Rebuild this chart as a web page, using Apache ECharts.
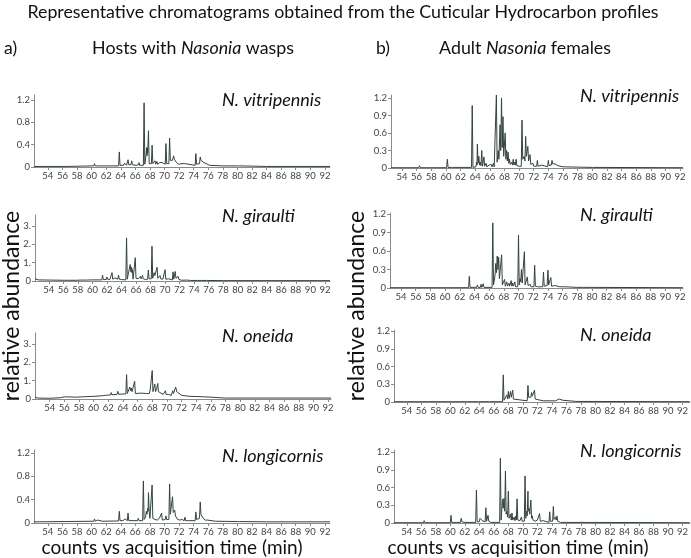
<!DOCTYPE html>
<html>
<head>
<meta charset="utf-8">
<script src="https://cdn.jsdelivr.net/npm/echarts@6/dist/echarts.min.js"></script>
<style>
    html, body { margin: 0; background: #fff; }
    #chart { width: 691px; height: 558px; }
</style>
</head>
<body>
<div id="chart"></div>
<script>
    // 刻度
    var xTicks = [54, 56, 58, 60, 62, 64, 66, 68, 70, 72, 74, 76, 78, 80, 82, 84, 86, 88, 90, 92];
    var yTicksHost = [0, 0.4, 0.8, 1.2];
    var yTicksHostBig = [0, 1, 2, 3];
    var yTicksAdult = [0, 0.3, 0.6, 0.9, 1.2];

    // [time (min), abundance]
    var hostVitripennis = [[52.1,0.01],[54.7,0.01],[54.8,0.03],[54.9,0.01],[56.6,0.01],[56.7,0.04],[56.8,0.01],[58.5,0.015],[58.6,0.03],[58.7,0.015],[60.3,0.02],[60.4,0.06],[60.5,0.02],[61.0,0.02],[61.1,0.035],[61.2,0.02],[61.6,0.02],[61.7,0.035],[61.8,0.02],[62.1,0.02],[62.2,0.035],[62.3,0.02],[63.7,0.02],[63.8,0.27],[63.9,0.03],[64.4,0.03],[64.5,0.07],[64.6,0.04],[64.7,0.08],[64.8,0.03],[64.95,0.03],[65.0,0.13],[65.1,0.04],[65.4,0.04],[65.5,0.11],[65.6,0.04],[66.1,0.03],[66.2,0.05],[66.3,0.03],[66.45,0.04],[66.5,0.08],[66.6,0.03],[67.1,0.03],[67.2,1.15],[67.3,0.05],[67.45,0.2],[67.55,0.35],[67.6,0.2],[67.65,0.34],[67.7,0.25],[67.8,0.65],[67.9,0.06],[68.2,0.06],[68.3,0.39],[68.4,0.06],[68.6,0.05],[68.7,0.11],[68.8,0.05],[68.95,0.1],[69.05,0.05],[69.35,0.08],[69.45,0.05],[69.65,0.08],[69.75,0.05],[70.1,0.05],[70.2,0.42],[70.3,0.06],[70.6,0.06],[70.7,0.52],[70.8,0.12],[71.0,0.15],[71.1,0.12],[71.25,0.2],[71.35,0.14],[71.5,0.16],[71.6,0.09],[71.8,0.09],[71.9,0.05],[72.4,0.06],[72.5,0.04],[72.8,0.06],[72.9,0.03],[74.2,0.03],[74.3,0.24],[74.4,0.05],[74.8,0.06],[74.9,0.18],[75.0,0.12],[75.2,0.1],[75.4,0.08],[75.6,0.06],[76.2,0.03],[78,0.02],[80.0,0.02],[80.1,0.035],[80.3,0.02],[84,0.01],[92.7,0.01]];

    var adultVitripennis = [[52.5,0.005],[56.3,0.005],[56.4,0.04],[56.5,0.005],[57.4,0.005],[57.5,0.02],[57.6,0.005],[60.1,0.005],[60.2,0.15],[60.3,0.01],[60.9,0.01],[61.0,0.03],[61.1,0.01],[61.8,0.01],[61.9,0.02],[62.0,0.01],[63.5,0.01],[63.6,1.07],[63.7,0.01],[64.1,0.02],[64.2,0.1],[64.25,0.05],[64.3,0.41],[64.4,0.08],[64.5,0.2],[64.6,0.05],[64.7,0.1],[64.8,0.04],[64.9,0.3],[65.0,0.03],[65.1,0.04],[65.2,0.19],[65.3,0.03],[65.5,0.08],[65.6,0.02],[65.9,0.05],[66.0,0.02],[66.2,0.06],[66.3,0.02],[66.5,0.08],[66.6,0.02],[66.8,0.02],[66.9,1.25],[67.0,0.1],[67.15,0.3],[67.25,0.15],[67.4,0.74],[67.5,0.3],[67.6,1.2],[67.7,0.35],[67.8,0.88],[67.9,0.2],[68.1,0.6],[68.2,0.15],[68.3,0.3],[68.4,0.12],[68.5,0.27],[68.6,0.08],[68.7,0.15],[68.8,0.06],[69.0,0.1],[69.1,0.05],[69.2,0.15],[69.3,0.05],[69.4,0.1],[69.5,0.05],[69.6,0.15],[69.7,0.04],[69.9,0.07],[70.0,0.03],[70.3,0.03],[70.4,0.82],[70.5,0.15],[70.7,0.2],[70.8,0.12],[70.9,0.54],[71.0,0.2],[71.2,0.37],[71.3,0.12],[71.5,0.23],[71.6,0.06],[71.9,0.08],[72.0,0.03],[72.4,0.03],[72.5,0.13],[72.6,0.03],[73.1,0.05],[73.2,0.02],[73.9,0.02],[74.0,0.13],[74.1,0.04],[74.4,0.05],[74.5,0.13],[74.6,0.07],[74.9,0.07],[75.3,0.04],[76,0.02],[80,0.01],[92.4,0.005]];

    var hostGiraulti = [[52.1,0.12],[52.6,0.06],[54.2,0.05],[54.3,0.1],[54.4,0.05],[56.1,0.04],[56.2,0.07],[56.3,0.04],[57.9,0.04],[58.0,0.12],[58.1,0.05],[58.4,0.05],[58.5,0.1],[58.6,0.05],[59.2,0.05],[59.3,0.1],[59.4,0.05],[59.8,0.06],[61.3,0.06],[61.4,0.32],[61.5,0.08],[61.9,0.08],[62.0,0.22],[62.1,0.1],[62.2,0.1],[62.3,0.2],[62.4,0.08],[62.6,0.08],[62.7,0.46],[62.8,0.1],[63.0,0.1],[63.1,0.17],[63.2,0.08],[63.5,0.1],[63.6,0.32],[63.7,0.1],[64.0,0.08],[64.1,0.12],[64.2,0.06],[64.6,0.06],[64.7,2.35],[64.8,0.1],[64.95,0.2],[65.05,0.1],[65.2,0.9],[65.3,0.5],[65.4,0.75],[65.45,0.45],[65.5,0.62],[65.6,0.1],[65.8,0.1],[65.9,1.27],[66.0,0.15],[66.2,0.22],[66.3,0.12],[66.6,0.25],[66.7,0.12],[66.9,0.3],[67.0,0.12],[67.2,0.22],[67.3,0.08],[67.6,0.1],[67.7,0.6],[67.8,0.12],[68.1,0.12],[68.2,1.9],[68.3,0.15],[68.5,0.45],[68.6,0.3],[68.7,0.4],[68.8,0.25],[68.9,0.75],[69.0,0.15],[69.3,0.3],[69.4,0.12],[69.6,0.22],[69.7,0.1],[69.9,0.1],[70.0,0.62],[70.1,0.1],[70.5,0.12],[70.6,0.06],[71.0,0.06],[71.1,0.5],[71.2,0.1],[71.3,0.1],[71.4,0.52],[71.5,0.15],[71.8,0.25],[71.9,0.08],[72.1,0.1],[72.3,0.04],[73.0,0.05],[73.5,0.03],[74.5,0.03],[74.6,0.06],[74.7,0.03],[75.0,0.03],[75.1,0.06],[75.2,0.03],[75.7,0.03],[75.8,0.06],[75.9,0.03],[78,0.02],[92.7,0.02]];

    var adultGiraulti = [[52.5,0.005],[59.7,0.005],[59.8,0.015],[59.9,0.005],[61.1,0.005],[61.2,0.015],[61.3,0.005],[63.2,0.005],[63.3,0.19],[63.4,0.01],[63.8,0.01],[63.9,0.03],[64.0,0.01],[64.3,0.01],[64.4,0.05],[64.5,0.01],[64.8,0.01],[64.9,0.06],[65.0,0.01],[65.1,0.01],[65.2,0.07],[65.3,0.01],[66.4,0.01],[66.5,1.06],[66.6,0.05],[66.8,0.2],[66.9,0.4],[67.0,0.25],[67.1,0.52],[67.2,0.3],[67.3,0.5],[67.4,0.15],[67.6,0.15],[67.7,0.54],[67.8,0.05],[68.0,0.05],[68.1,0.14],[68.2,0.03],[68.3,0.03],[68.4,0.1],[68.5,0.03],[68.65,0.03],[68.7,0.08],[68.8,0.03],[68.9,0.03],[69.0,0.12],[69.1,0.03],[69.2,0.08],[69.3,0.03],[69.4,0.03],[69.5,0.1],[69.6,0.02],[69.9,0.02],[70.0,0.86],[70.1,0.05],[70.2,0.15],[70.3,0.1],[70.4,0.3],[70.5,0.08],[70.7,0.1],[70.8,0.59],[70.9,0.05],[71.1,0.06],[71.2,0.18],[71.3,0.04],[71.5,0.04],[71.6,0.06],[71.7,0.02],[72.1,0.02],[72.2,0.37],[72.3,0.03],[72.5,0.05],[72.6,0.02],[73.3,0.02],[73.4,0.26],[73.5,0.03],[73.9,0.04],[74.0,0.29],[74.1,0.05],[74.3,0.05],[74.4,0.17],[74.5,0.03],[75.0,0.04],[75.1,0.02],[75.6,0.02],[76.3,0.02],[78.0,0.01],[78.1,0.02],[78.2,0.01],[78.8,0.01],[78.9,0.035],[79.0,0.01],[79.6,0.01],[79.7,0.025],[79.8,0.01],[92.4,0.005]];

    var hostOneida = [[52.0,0.1],[52.4,0.05],[54,0.04],[55.5,0.07],[56.0,0.12],[56.2,0.09],[57.6,0.1],[57.7,0.17],[57.8,0.11],[58.5,0.12],[58.6,0.2],[58.7,0.13],[59.1,0.13],[59.2,0.18],[59.3,0.14],[60.3,0.15],[60.4,0.2],[60.5,0.16],[61.2,0.18],[61.3,0.26],[61.4,0.19],[61.6,0.2],[61.7,0.26],[61.8,0.2],[62.3,0.22],[62.4,0.35],[62.5,0.23],[63.2,0.25],[63.3,0.42],[63.4,0.26],[64.4,0.28],[64.5,1.33],[64.6,0.3],[64.7,0.35],[64.8,0.3],[64.95,0.65],[65.05,0.45],[65.15,0.6],[65.25,0.4],[65.3,0.5],[65.4,0.3],[65.5,0.3],[65.6,0.97],[65.7,0.3],[65.9,0.3],[66.5,0.32],[67.2,0.3],[67.6,0.3],[67.7,0.45],[67.8,0.35],[68.0,1.55],[68.1,0.4],[68.2,0.45],[68.25,0.4],[68.35,0.82],[68.45,0.4],[68.6,0.55],[68.65,0.5],[68.75,0.85],[68.85,0.4],[69.0,0.35],[69.5,0.25],[69.7,0.25],[69.8,0.45],[69.9,0.25],[70.2,0.25],[70.6,0.2],[70.7,0.25],[70.8,0.45],[70.9,0.3],[71.05,0.35],[71.2,0.65],[71.35,0.4],[71.5,0.3],[72.0,0.2],[73,0.15],[75,0.12],[76,0.1],[78,0.05],[92.4,0.05]];

    var adultOneida = [[52.24,0.005],[63.9,0.005],[64.0,0.02],[64.1,0.005],[65.4,0.005],[65.5,0.01],[65.6,0.005],[67.2,0.005],[67.3,0.46],[67.4,0.03],[67.6,0.05],[67.8,0.12],[67.9,0.05],[68.0,0.18],[68.1,0.06],[68.2,0.08],[68.3,0.18],[68.4,0.08],[68.6,0.2],[68.7,0.05],[68.8,0.03],[70.6,0.02],[70.7,0.28],[70.8,0.08],[71.0,0.1],[71.1,0.08],[71.2,0.16],[71.3,0.1],[71.4,0.12],[71.5,0.1],[71.6,0.2],[71.7,0.05],[71.9,0.04],[72.8,0.02],[74.5,0.02],[75.0,0.05],[75.5,0.03],[77.3,0.01],[93,0.005]];

    var hostLongicornis = [[52.1,0.02],[56.5,0.025],[56.6,0.04],[56.7,0.025],[60.3,0.03],[60.4,0.07],[60.5,0.03],[60.7,0.03],[60.8,0.05],[60.9,0.03],[61.5,0.03],[61.6,0.055],[61.7,0.03],[63.7,0.035],[63.8,0.2],[63.9,0.04],[64.3,0.04],[64.4,0.06],[64.5,0.04],[64.6,0.07],[64.7,0.04],[64.9,0.04],[65.0,0.17],[65.1,0.04],[65.4,0.04],[65.5,0.07],[65.6,0.04],[66.3,0.04],[66.4,0.08],[66.5,0.04],[67.0,0.04],[67.1,0.72],[67.2,0.06],[67.4,0.1],[67.5,0.2],[67.6,0.15],[67.7,0.25],[67.75,0.2],[67.8,0.52],[67.9,0.2],[68.0,0.08],[68.2,0.08],[68.3,0.65],[68.4,0.08],[68.6,0.1],[68.7,0.06],[68.9,0.08],[69.0,0.05],[69.3,0.08],[69.4,0.05],[69.5,0.05],[69.6,0.17],[69.7,0.05],[69.8,0.08],[69.9,0.05],[70.1,0.06],[70.2,0.12],[70.3,0.06],[70.6,0.06],[70.7,0.67],[70.8,0.15],[70.9,0.15],[71.1,0.45],[71.2,0.18],[71.4,0.22],[71.5,0.12],[71.6,0.12],[71.8,0.06],[71.9,0.08],[72.1,0.05],[72.4,0.06],[72.5,0.04],[72.7,0.04],[72.8,0.1],[72.9,0.04],[73.3,0.04],[74.2,0.04],[74.3,0.19],[74.4,0.06],[74.8,0.08],[74.9,0.36],[75.0,0.15],[75.1,0.15],[75.3,0.08],[75.4,0.1],[75.6,0.05],[75.9,0.05],[77,0.03],[80.0,0.025],[80.1,0.04],[80.3,0.025],[84,0.02],[92.7,0.02]];

    var adultLongicornis = [[52.24,0.005],[56.3,0.005],[56.4,0.04],[56.5,0.005],[57.2,0.005],[57.3,0.02],[57.4,0.005],[57.7,0.005],[57.8,0.02],[57.9,0.005],[60.0,0.005],[60.1,0.13],[60.2,0.01],[60.9,0.01],[61.0,0.04],[61.1,0.01],[61.4,0.01],[61.5,0.08],[61.6,0.02],[61.8,0.03],[61.9,0.01],[63.5,0.01],[63.6,0.56],[63.7,0.02],[64.0,0.02],[64.1,0.08],[64.2,0.06],[64.3,0.1],[64.4,0.04],[64.5,0.06],[64.6,0.02],[64.8,0.02],[64.9,0.26],[65.0,0.03],[65.1,0.04],[65.2,0.13],[65.3,0.03],[65.5,0.03],[65.6,0.01],[66.8,0.01],[66.9,1.1],[67.0,0.05],[67.2,0.4],[67.3,0.25],[67.4,0.42],[67.5,0.2],[67.6,0.88],[67.7,0.15],[67.8,0.2],[67.9,0.1],[68.0,0.54],[68.1,0.08],[68.3,0.15],[68.4,0.05],[68.5,0.17],[68.6,0.05],[68.8,0.1],[68.9,0.04],[69.05,0.12],[69.1,0.05],[69.2,0.41],[69.3,0.05],[69.5,0.08],[69.6,0.04],[69.8,0.1],[69.9,0.03],[70.2,0.03],[70.3,0.8],[70.4,0.08],[70.5,0.2],[70.6,0.12],[70.7,0.54],[70.75,0.2],[70.85,0.25],[70.95,0.15],[71.1,0.39],[71.2,0.08],[71.3,0.12],[71.4,0.05],[71.6,0.08],[71.7,0.03],[72.0,0.05],[72.1,0.02],[72.2,0.02],[72.3,0.16],[72.4,0.03],[72.8,0.04],[72.9,0.01],[73.6,0.01],[73.7,0.19],[73.8,0.03],[74.1,0.03],[74.2,0.28],[74.3,0.06],[74.5,0.1],[74.6,0.05],[74.7,0.12],[74.8,0.03],[75.0,0.04],[75.2,0.01],[79.0,0.01],[79.1,0.02],[79.2,0.01],[93,0.005]];

    // 每个小图的位置
    var panels = [
        { data: hostVitripennis, box: [34, 95, 296, 72], xr: [52.1, 92.7], yMax: 1.29, yTicks: yTicksHost, name: 'N. vitripennis', lx: 222, ly: 102 },
        { data: adultVitripennis, box: [391, 95, 292, 73], xr: [52.5, 92.4], yMax: 1.25, yTicks: yTicksAdult, name: 'N. vitripennis', lx: 580, ly: 98 },
        { data: hostGiraulti, box: [35, 215, 295, 66], xr: [52.1, 92.7], yMax: 3.6, yTicks: yTicksHostBig, name: 'N. giraulti', lx: 222, ly: 218 },
        { data: adultGiraulti, box: [390, 213, 293, 75], xr: [52.5, 92.4], yMax: 1.22, yTicks: yTicksAdult, name: 'N. giraulti', lx: 580, ly: 217 },
        { data: hostOneida, box: [35, 333, 296, 66], xr: [52.0, 92.4], yMax: 3.6, yTicks: yTicksHostBig, name: 'N. oneida', lx: 222, ly: 338 },
        { data: adultOneida, box: [394, 330, 300, 72], xr: [52.24, 93], yMax: 1.22, yTicks: yTicksAdult, name: 'N. oneida', lx: 580, ly: 337 },
        { data: hostLongicornis, box: [34, 450, 296, 73], xr: [52.1, 92.7], yMax: 1.25, yTicks: yTicksHost, name: 'N. longicornis', lx: 222, ly: 458 },
        { data: adultLongicornis, box: [394, 450, 300, 73], xr: [52.24, 93], yMax: 1.24, yTicks: yTicksAdult, name: 'N. longicornis', lx: 580, ly: 453 }
    ];

    var font = 'Lato, "Open Sans", sans-serif';
    var grids = [], xAxes = [], yAxes = [], series = [], texts = [];

    panels.forEach(function (p, i) {
        grids.push({ left: p.box[0], top: p.box[1], width: p.box[2], height: p.box[3], containLabel: false });
        xAxes.push({
            type: 'value', gridIndex: i, min: p.xr[0], max: p.xr[1],
            axisLine: { lineStyle: { color: '#8a8a8a', width: 1 } },
            axisTick: { customValues: xTicks, length: 3, lineStyle: { color: '#8a8a8a' } },
            axisLabel: { customValues: xTicks, margin: 4, fontSize: 9.5, color: '#444', fontFamily: font },
            splitLine: { show: false }
        });
        yAxes.push({
            type: 'value', gridIndex: i, min: 0, max: p.yMax,
            axisLine: { show: true, lineStyle: { color: '#8a8a8a', width: 1 } },
            axisTick: { show: true, customValues: p.yTicks, length: 3, lineStyle: { color: '#8a8a8a' } },
            axisLabel: {
                customValues: p.yTicks, margin: 4, fontSize: 9.5, color: '#444', fontFamily: font,
                formatter: function (v) {
                    if (v === 0) return '0';
                    return p.yTicks === yTicksHostBig ? v + '.' : String(v);
                }
            },
            splitLine: { show: false }
        });
        series.push({
            type: 'line', xAxisIndex: i, yAxisIndex: i, data: p.data,
            showSymbol: false, symbol: 'none',
            lineStyle: { color: '#34433f', width: 1 },
            silent: true
        });
        texts.push({
            type: 'text', left: p.lx, top: p.ly - 11,
            style: { text: p.name, font: 'italic 18px ' + font, fill: '#111' }
        });
    });

    // 标题与坐标轴名称
    var sub = function (s) { return s + 'px ' + font; };
    texts.push(
        { type: 'text', x: 343, y: 12, style: { text: 'Representative chromatograms obtained from the Cuticular Hydrocarbon profiles', font: sub(17.8), fill: '#111', align: 'center', verticalAlign: 'middle' } },
        { type: 'text', x: 4, y: 48, style: { text: 'a)', font: sub(17.5), fill: '#111', verticalAlign: 'middle' } },
        { type: 'text', x: 376, y: 48, style: { text: 'b)', font: sub(17.5), fill: '#111', verticalAlign: 'middle' } },
        { type: 'text', x: 193, y: 48, style: {
            text: '{n|Hosts with }{i|Nasonia}{n| wasps}', align: 'center', verticalAlign: 'middle',
            rich: { n: { font: sub(17.8), fill: '#111' }, i: { font: 'italic ' + sub(17.8), fill: '#111' } } } },
        { type: 'text', x: 525, y: 48, style: {
            text: '{n|Adult }{i|Nasonia}{n| females}', align: 'center', verticalAlign: 'middle',
            rich: { n: { font: sub(17.8), fill: '#111' }, i: { font: 'italic ' + sub(17.8), fill: '#111' } } } },
        { type: 'text', x: 12, y: 306, rotation: Math.PI / 2, style: { text: 'relative abundance', font: sub(23), fill: '#111', align: 'center', verticalAlign: 'middle' } },
        { type: 'text', x: 357, y: 306, rotation: Math.PI / 2, style: { text: 'relative abundance', font: sub(23), fill: '#111', align: 'center', verticalAlign: 'middle' } },
        { type: 'text', x: 172, y: 548, style: { text: 'counts vs acquisition time (min)', font: sub(19), fill: '#111', align: 'center', verticalAlign: 'middle' } },
        { type: 'text', x: 518, y: 548, style: { text: 'counts vs acquisition time (min)', font: sub(19), fill: '#111', align: 'center', verticalAlign: 'middle' } }
    );

    var myChart = echarts.init(document.getElementById('chart'), null, { renderer: 'canvas' });
    myChart.setOption({
        animation: false,
        backgroundColor: '#fff',
        grid: grids,
        xAxis: xAxes,
        yAxis: yAxes,
        series: series,
        graphic: texts
    });
</script>
</body>
</html>
